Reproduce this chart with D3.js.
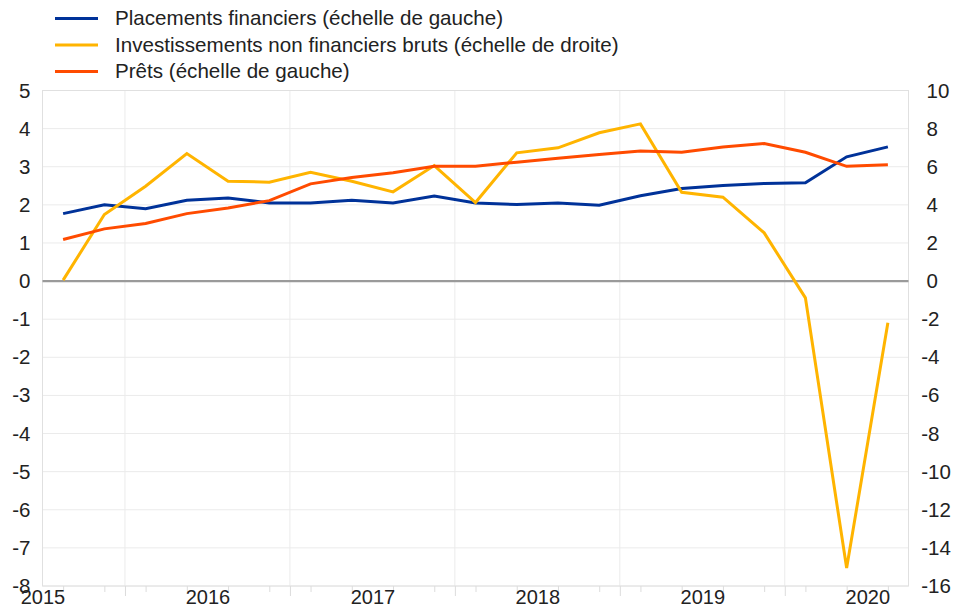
<!DOCTYPE html>
<html>
<head>
<meta charset="utf-8">
<script src="https://cdn.jsdelivr.net/npm/d3@7"></script>
<style>
	body { margin: 0; background: #fff; }
	text { font-family: Arial, "Liberation Sans", sans-serif; fill: #222; }
</style>
</head>
<body>
<div id="chart"></div>
<script>
// quarterly data, 2015T3 - 2020T3
let quarters = ["2015T3","2015T4","2016T1","2016T2","2016T3","2016T4","2017T1","2017T2","2017T3","2017T4",
	"2018T1","2018T2","2018T3","2018T4","2019T1","2019T2","2019T3","2019T4","2020T1","2020T2","2020T3"];

let placements = [1.77, 2.00, 1.90, 2.12, 2.18, 2.05, 2.05, 2.12, 2.05, 2.23, 2.05,
	2.01, 2.05, 1.99, 2.24, 2.43, 2.51, 2.56, 2.58, 3.26, 3.52];
let investissements = [0.05, 3.49, 4.98, 6.69, 5.24, 5.19, 5.71, 5.24, 4.68, 6.06, 4.12,
	6.73, 6.99, 7.78, 8.25, 4.66, 4.40, 2.53, -0.88, -15.06, -2.19];
let prets = [1.09, 1.37, 1.51, 1.77, 1.92, 2.11, 2.55, 2.72, 2.84, 3.01, 3.01,
	3.12, 3.22, 3.32, 3.41, 3.38, 3.52, 3.61, 3.38, 3.01, 3.05];

let years = [2015, 2016, 2017, 2018, 2019, 2020];
let leftTicks = [5, 4, 3, 2, 1, 0, -1, -2, -3, -4, -5, -6, -7, -8];
let rightTicks = [10, 8, 6, 4, 2, 0, -2, -4, -6, -8, -10, -12, -14, -16];

let seriesNames = ["Placements financiers (échelle de gauche)",
	"Investissements non financiers bruts (échelle de droite)",
	"Prêts (échelle de gauche)"];
let seriesColors = ["#003299", "#ffb400", "#ff4b00"];

// "2015T3" -> middle of the quarter, in years
function quarterMid(q){
	let yr = +q.slice(0, 4), n = +q.slice(5);
	return yr + (n - 1) / 4 + 0.125;
}

let width = 955, height = 609;
let pLeft = 42.5, pRight = 908.5, pTop = 90.5, pBottom = 586;

let svg = d3.select("#chart").append("svg")
	.attr("width", width)
	.attr("height", height);

let x = d3.scaleLinear()
	.domain([2015.5, 2020.75])
	.range([pLeft, pRight]);

let yL = d3.scaleLinear()
	.domain([-8, 5])
	.range([pBottom, pTop]);

let yR = d3.scaleLinear()
	.domain([-16, 10])
	.range([pBottom, pTop]);

// grid
svg.append("g")
	.selectAll("line")
	.data(leftTicks)
	.enter().append("line")
	.attr("x1", pLeft).attr("x2", pRight)
	.attr("y1", d => yL(d)).attr("y2", d => yL(d))
	.attr("stroke", "#ebebeb")
	.attr("stroke-width", 1);

svg.append("g")
	.selectAll("line")
	.data(years.slice(1))
	.enter().append("line")
	.attr("x1", d => x(d)).attr("x2", d => x(d))
	.attr("y1", pTop).attr("y2", pBottom)
	.attr("stroke", "#ebebeb")
	.attr("stroke-width", 1);

svg.append("rect")
	.attr("x", pLeft).attr("y", pTop)
	.attr("width", pRight - pLeft).attr("height", pBottom - pTop)
	.attr("fill", "none")
	.attr("stroke", "#e0e0e0");

// x axis: quarter ticks, year ticks, year labels
let qAxis = svg.append("g")
	.attr("transform", "translate(0," + pBottom + ")")
	.call(d3.axisBottom(x).tickValues(quarters.map(quarterMid)).tickSize(6).tickFormat(""));
let yearTicks = svg.append("g")
	.attr("transform", "translate(0," + pBottom + ")")
	.call(d3.axisBottom(x).tickValues(years.slice(1)).tickSize(10).tickFormat(""));
let labelAxis = svg.append("g")
	.attr("transform", "translate(0," + pBottom + ")")
	.call(d3.axisBottom(x).tickValues(years.map(d => d + 0.5)).tickSize(0).tickPadding(4)
		.tickFormat(d => Math.floor(d)));

[qAxis, yearTicks, labelAxis].forEach(g => {
	g.select(".domain").remove();
	g.selectAll("line").attr("stroke", "#dcdcdc");
	g.selectAll("text").style("font-size", "20px").attr("fill", "#222");
});

// left axis (plain hyphen for negatives, like the original)
let axL = svg.append("g")
	.attr("transform", "translate(" + pLeft + ",0)")
	.call(d3.axisLeft(yL).tickValues(leftTicks).tickSize(0).tickPadding(12)
		.tickFormat(d => String(d)));
axL.select(".domain").remove();
axL.selectAll("text").style("font-size", "20.5px").attr("fill", "#222");

// right axis
let axR = svg.append("g")
	.attr("transform", "translate(" + pRight + ",0)")
	.call(d3.axisRight(yR).tickValues(rightTicks).tickSize(0).tickPadding(18)
		.tickFormat(d => String(d)));
axR.select(".domain").remove();
axR.selectAll("text").style("font-size", "20.5px").attr("fill", "#222")
	.attr("dx", d => d < 0 ? "-0.26em" : 0);

// zero line
svg.append("line")
	.attr("x1", pLeft).attr("x2", pRight)
	.attr("y1", yL(0)).attr("y2", yL(0))
	.attr("stroke", "#9a9a9a")
	.attr("stroke-width", 2.2);

// lines
let lineL = d3.line()
	.x((d, i) => x(quarterMid(quarters[i])))
	.y(d => yL(d));
let lineR = d3.line()
	.x((d, i) => x(quarterMid(quarters[i])))
	.y(d => yR(d));

svg.append("path").attr("d", lineL(placements))
	.attr("fill", "none").attr("stroke", seriesColors[0]).attr("stroke-width", 3);
svg.append("path").attr("d", lineR(investissements))
	.attr("fill", "none").attr("stroke", seriesColors[1]).attr("stroke-width", 3);
svg.append("path").attr("d", lineL(prets))
	.attr("fill", "none").attr("stroke", seriesColors[2]).attr("stroke-width", 3);

// legend
let legend = svg.append("g").selectAll("g")
	.data(seriesNames)
	.enter().append("g")
	.attr("transform", (d, i) => "translate(0," + (18.5 + i * 26.5) + ")");

legend.append("line")
	.attr("x1", 55).attr("x2", 98)
	.attr("y1", 0).attr("y2", 0)
	.attr("stroke", (d, i) => seriesColors[i])
	.attr("stroke-width", 3);

legend.append("text")
	.attr("x", 115)
	.attr("y", 0)
	.attr("dy", "0.32em")
	.style("font-size", "20.6px")
	.text(d => d);
</script>
</body>
</html>
